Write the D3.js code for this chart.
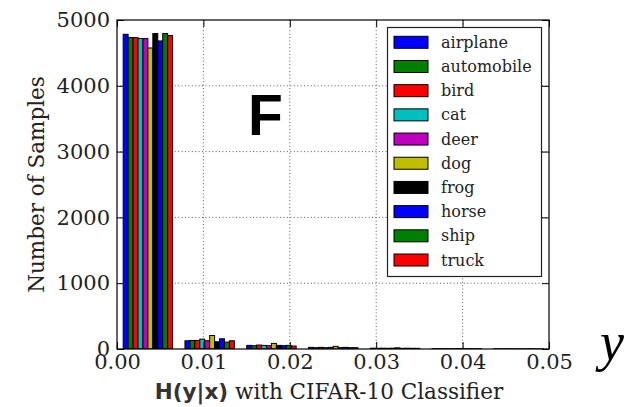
<!DOCTYPE html>
<html>
<head>
<meta charset="utf-8">
<script src="https://cdn.jsdelivr.net/npm/d3@7"></script>
<style>
  html, body { margin: 0; padding: 0; background: #fff; }
  svg { display: block; }
</style>
</head>
<body>
<svg id="chart" width="642" height="407"></svg>
<script>
// ---------------- data ----------------
const classes = ["airplane", "automobile", "bird", "cat", "deer", "dog", "frog", "horse", "ship", "truck"];
const colors = ["#0000ff", "#008000", "#ff0000", "#00bfbf", "#bf00bf", "#bfbf00", "#000000", "#0000ff", "#008000", "#ff0000"];
const binWidth = 0.00715;
const binStarts = [0, 0.00715, 0.0143, 0.02145, 0.0286, 0.03575, 0.0429];
const airplane   = [4783, 125, 55, 25, 12, 5, 3];
const automobile = [4733, 130, 50, 20, 10, 4, 2];
const bird       = [4733, 130, 60, 25, 12, 5, 3];
const cat        = [4718, 150, 55, 20, 10, 4, 2];
const deer       = [4718, 125, 50, 25, 12, 5, 2];
const dog        = [4575, 205, 85, 40, 18, 6, 3];
const frog       = [4794, 110, 55, 20, 10, 4, 2];
const horse      = [4682, 155, 50, 25, 12, 5, 3];
const ship       = [4794, 105, 55, 20, 10, 4, 2];
const truck      = [4764, 125, 45, 20, 10, 4, 2];
const series = [airplane, automobile, bird, cat, deer, dog, frog, horse, ship, truck];
const xTicks = [0, 0.01, 0.02, 0.03, 0.04, 0.05];
const xTickLabels = ["0.00", "0.01", "0.02", "0.03", "0.04", "0.05"];
const yTicks = [0, 1000, 2000, 3000, 4000, 5000];
const yTickLabels = ["0", "1000", "2000", "3000", "4000", "5000"];

// ---------------- layout ----------------
const L = 117, R = 549, T = 20, B = 349;
const svg = d3.select("#chart");
const x = d3.scaleLinear().domain([0, 0.05]).range([L, R]);
const y = d3.scaleLinear().domain([0, 5000]).range([B, T]);
const serif = "'DejaVu Serif', serif";

svg.append("rect").attr("width", 642).attr("height", 407).attr("fill", "#fff");

svg.append("defs").append("clipPath").attr("id", "clip")
  .append("rect").attr("x", L).attr("y", T).attr("width", R - L).attr("height", B - T);

// grid
const grid = svg.append("g").attr("stroke", "#000").attr("stroke-width", 0.8)
  .attr("stroke-dasharray", "1,2.4").attr("opacity", 0.8);
xTicks.slice(1, -1).forEach(v => grid.append("line")
  .attr("x1", x(v)).attr("x2", x(v)).attr("y1", T).attr("y2", B));
yTicks.slice(1, -1).forEach(v => grid.append("line")
  .attr("x1", L).attr("x2", R).attr("y1", y(v)).attr("y2", y(v)));

// bars
const barW = binWidth * 0.8 / classes.length;
const bars = svg.append("g").attr("clip-path", "url(#clip)");
series.forEach((vals, ci) => {
  bars.append("g").selectAll("rect").data(vals).join("rect")
    .attr("x", (d, i) => x(binStarts[i] + binWidth * 0.1 + ci * barW))
    .attr("width", x(barW) - x(0))
    .attr("y", d => y(d))
    .attr("height", d => y(0) - y(d))
    .attr("fill", colors[ci])
    .attr("stroke", "#000")
    .attr("stroke-width", 1);
});

// axes with inward ticks
const tickLen = 7;
const ax = svg.append("g").attr("font-family", serif);
const xAxis = ax.append("g").attr("transform", `translate(0,${B})`)
  .call(d3.axisBottom(x).tickValues(xTicks).tickFormat((d, i) => xTickLabels[i]).tickSize(-tickLen).tickPadding(5));
const xAxisTop = ax.append("g").attr("transform", `translate(0,${T})`)
  .call(d3.axisTop(x).tickValues(xTicks).tickFormat("").tickSize(-tickLen));
const yAxis = ax.append("g").attr("transform", `translate(${L},0)`)
  .call(d3.axisLeft(y).tickValues(yTicks).tickFormat((d, i) => yTickLabels[i]).tickSize(-tickLen).tickPadding(7));
const yAxisR = ax.append("g").attr("transform", `translate(${R},0)`)
  .call(d3.axisRight(y).tickValues(yTicks).tickFormat("").tickSize(-tickLen));
ax.selectAll(".domain").remove();
ax.selectAll(".tick line").attr("stroke", "#000").attr("stroke-width", 1);
ax.selectAll(".tick text").attr("font-size", 21).attr("fill", "#222").attr("font-family", serif);

// frame
svg.append("rect").attr("x", L).attr("y", T).attr("width", R - L).attr("height", B - T)
  .attr("fill", "none").attr("stroke", "#000").attr("stroke-width", 1.2);

// axis labels
svg.append("text").attr("transform", `translate(44,${(T + B) / 2}) rotate(-90)`)
  .attr("text-anchor", "middle").attr("font-family", serif).attr("font-size", 21.5).attr("fill", "#222")
  .text("Number of Samples");
const xl = svg.append("text").attr("x", (L + R) / 2 - 4).attr("y", 399)
  .attr("text-anchor", "middle").attr("font-family", serif).attr("font-size", 21.5).attr("fill", "#222");
xl.append("tspan").attr("font-family", "'DejaVu Sans', sans-serif").attr("font-weight", "bold").attr("fill", "#333").text("H(y|x)");
xl.append("tspan").text(" with CIFAR-10 Classifier");

// legend
const lg = svg.append("g");
lg.append("rect").attr("x", 387.5).attr("y", 27.5).attr("width", 154).attr("height", 249)
  .attr("fill", "#fff").attr("stroke", "#222").attr("stroke-width", 1.2);
const rowY = d3.scaleLinear().domain([0, classes.length - 1]).range([42.3, 260]);
classes.forEach((c, i) => {
  lg.append("rect").attr("x", 394).attr("y", rowY(i) - 6).attr("width", 34).attr("height", 12)
    .attr("fill", colors[i]).attr("stroke", "#000").attr("stroke-width", 1);
  lg.append("text").attr("x", 441).attr("y", rowY(i) + 5.5).attr("font-family", serif)
    .attr("font-size", 16).attr("fill", "#222").text(c);
});

// annotations
svg.append("text").attr("x", 248).attr("y", 135).attr("font-family", "'Liberation Sans', Arial, sans-serif")
  .attr("font-weight", "bold").attr("font-size", 57).attr("fill", "#000").text("F");
svg.append("text").attr("x", 600).attr("y", 360).attr("font-family", "'Liberation Serif', serif")
  .attr("font-style", "italic").attr("font-size", 54).attr("fill", "#000").text("y");
</script>
</body>
</html>
